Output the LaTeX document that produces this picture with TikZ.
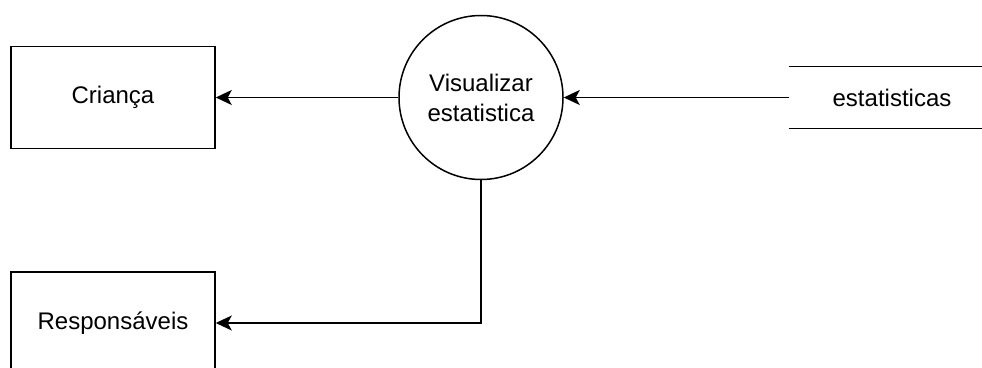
\documentclass[tikz,border=0pt]{standalone}
\usepackage{fontspec}
\setmainfont{Liberation Sans}
\usetikzlibrary{arrows.meta}
\begin{document}
\begin{tikzpicture}[x=1pt,y=-1pt,
  every node/.style={font=\fontsize{24}{30}\selectfont, inner sep=0pt},
  entity/.style={draw, line width=1.5pt, rectangle, minimum width=204pt, minimum height=102pt},
  proc/.style={draw, line width=1.5pt, circle, minimum size=164pt, align=center},
  store/.style={rectangle, minimum width=206pt, minimum height=62pt},
  flow/.style={line width=1.5pt, -{Stealth[length=16pt,width=15pt,inset=4pt]}}]
  \useasboundingbox (0,0) rectangle (982,367);
  \clip (0,0) rectangle (982,367);
  \node[entity] (crianca) at (113,97.5) {Criança};
  \node[entity] (resp) at (113,323) {Responsáveis};
  \node[proc] (proc) at (481,97.5) {Visualizar\\estatistica};
  \node[store] (est) at (892,97.5) {estatisticas};
  \draw[line width=1.5pt] (est.north west) -- (est.north east);
  \draw[line width=1.5pt] (est.south west) -- (est.south east);
  \draw[flow] (proc.west) -- (crianca.east);
  \draw[flow] (est.west) -- (proc.east);
  \draw[flow] (proc.south) |- (resp.east);
\end{tikzpicture}
\end{document}
